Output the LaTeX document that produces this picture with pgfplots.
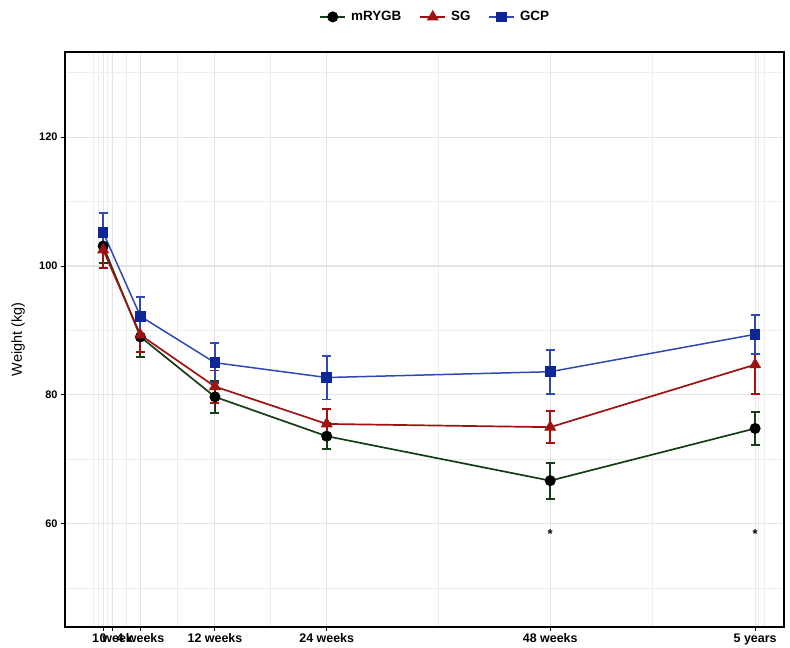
\documentclass[border=0pt]{standalone}
\usepackage{fontspec}
\setmainfont{Liberation Sans}
\usepackage{pgfplots}
\pgfplotsset{compat=1.18}
\definecolor{cgreen}{RGB}{22,62,22}
\definecolor{cred}{RGB}{158,18,18}
\definecolor{cblue}{RGB}{48,72,178}
\definecolor{cnavy}{RGB}{14,38,150}
\definecolor{gridc}{RGB}{228,228,228}
\definecolor{gridm}{RGB}{238,238,238}
\pgfplotsset{every error bar/.append style={line width=2bp}}
\begin{document}
\begin{tikzpicture}
\begin{axis}[
  scale only axis, width=719bp, height=575bp,
  xmin=-4.1, xmax=73.1, ymin=44, ymax=133.2,
  axis line style={line width=1.4bp, black},
  xtick={0,1,4,12,24,48,70},
  xticklabels={0,1 week,4 weeks,12 weeks,24 weeks,48 weeks,5 years},
  ytick={60,80,100,120},
  minor xtick={-1,-0.5,0.5,2.5,8,18,36,59,70.4,71},
  minor ytick={50,70,90,110,130},
  grid=both,
  major grid style={gridc, line width=1.1bp},
  minor grid style={gridm, line width=0.8bp},
  tick align=outside, tick pos=left,
  major tick length=4bp,
  minor tick style={draw=none},
  tick style={black, line width=1bp},
  /pgf/number format/assume math mode=true,
  xticklabel style={font=\bfseries\fontsize{12.5}{14}\selectfont, yshift=1bp},
  yticklabel style={font=\bfseries\fontsize{11}{13}\selectfont},
  ylabel={Weight (kg)},
  ylabel style={font=\fontsize{14.5}{17}\selectfont, at={(axis description cs:-0.065,0.5)}, anchor=center},
  legend style={draw=none, fill=none, at={(axis description cs:0.515,1.061)}, anchor=center,
    legend columns=3, font=\bfseries\fontsize{13.5}{16}\selectfont,
    /tikz/every even column/.append style={column sep=16bp},
    /tikz/every odd column/.append style={column sep=3bp}},
  legend image code/.code={
    \draw[mark repeat=2,mark phase=2] plot coordinates {(0bp,0bp) (12.5bp,0bp) (25bp,0bp)};},
]
% mRYGB
\addplot[cgreen, line width=1.7bp, mark=*, mark size=5bp,
  mark options={fill=black, draw=black, line width=1bp},
  error bars/.cd, y dir=both, y explicit,
  error bar style={line width=2bp, draw=cgreen},
  error mark options={rotate=90, mark size=4.5bp, line width=1.8bp, draw=cgreen}]
  coordinates {
  (0,103.1) +- (0,2.6)
  (4,89.0) +- (0,3.1)
  (12,79.7) +- (0,2.5)
  (24,73.6) +- (0,2.0)
  (48,66.7) +- (0,2.8)
  (70,74.8) +- (0,2.55)
  };
\addlegendentry{mRYGB}
% SG
\addplot[cred, line width=1.7bp, mark=triangle*, mark size=6bp,
  mark options={fill=cred, draw=cred, line width=1bp},
  error bars/.cd, y dir=both, y explicit,
  error bar style={line width=2bp, draw=cred},
  error mark options={rotate=90, mark size=4.5bp, line width=1.8bp, draw=cred}]
  coordinates {
  (0,102.5) +- (0,2.8)
  (4,89.3) +- (0,2.7)
  (12,81.3) +- (0,2.5)
  (24,75.5) +- (0,2.3)
  (48,75.0) +- (0,2.5)
  (70,84.7) +- (0,4.6)
  };
\addlegendentry{SG}
% GCP
\addplot[cblue, line width=1.5bp, mark=square*, mark size=4.8bp,
  mark options={fill=cnavy, draw=cnavy, line width=1bp},
  error bars/.cd, y dir=both, y explicit,
  error bar style={line width=2bp, draw=cblue},
  error mark options={rotate=90, mark size=4.5bp, line width=1.8bp, draw=cblue}]
  coordinates {
  (0,105.2) +- (0,3.0)
  (4,92.2) +- (0,3.0)
  (12,85.0) +- (0,3.1)
  (24,82.7) +- (0,3.4)
  (48,83.6) +- (0,3.4)
  (70,89.4) +- (0,3.0)
  };
\addlegendentry{GCP}
\node[font=\bfseries\fontsize{13}{14}\selectfont] at (axis cs:48,58.4) {*};
\node[font=\bfseries\fontsize{13}{14}\selectfont] at (axis cs:70,58.4) {*};
\end{axis}
\path (current axis.south west) ++(-65bp,-19bp) rectangle ++(790bp,646bp);
\end{tikzpicture}
\end{document}
